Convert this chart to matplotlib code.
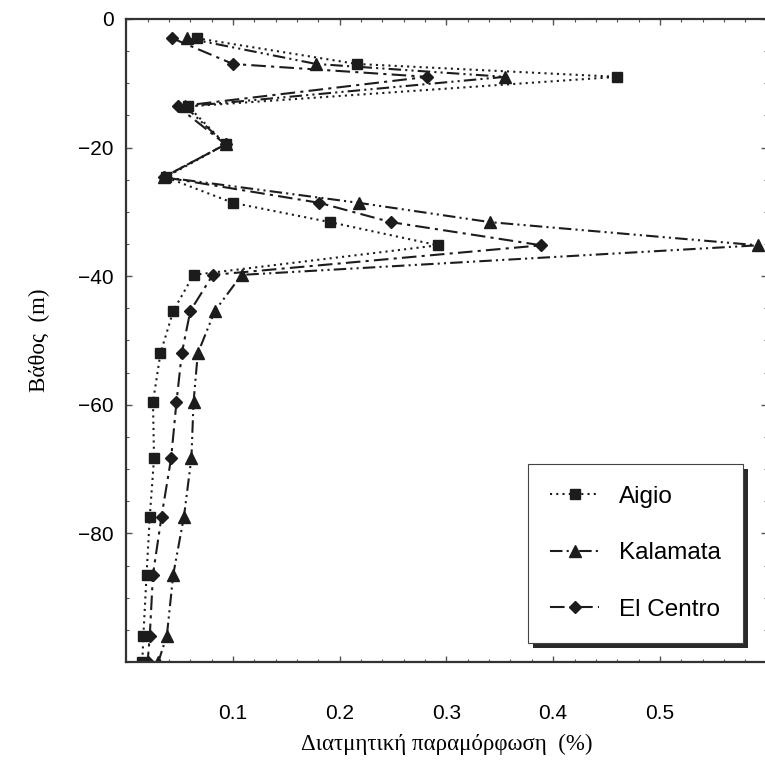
import matplotlib
matplotlib.use("Agg")
import matplotlib.pyplot as plt
from matplotlib.patches import Rectangle
from matplotlib.ticker import MultipleLocator

# Shear strain profiles (%) versus depth (m) for three input motions
depth = [-3, -7, -9, -13.6, -19.5, -24.6, -28.6, -31.6, -35.2, -39.8,
         -45.4, -52, -59.6, -68.3, -77.4, -86.4, -95.9, -100]
aigio = [0.066, 0.216, 0.460, 0.058, 0.093, 0.037, 0.100, 0.191, 0.292, 0.063,
         0.044, 0.032, 0.025, 0.026, 0.022, 0.019, 0.016, 0.015]
kalamata = [0.057, 0.178, 0.355, 0.055, 0.093, 0.035, 0.218, 0.341, 0.592, 0.108,
            0.083, 0.067, 0.063, 0.061, 0.054, 0.044, 0.038, 0.030]
el_centro = [0.043, 0.100, 0.282, 0.048, 0.093, 0.035, 0.181, 0.248, 0.389, 0.081,
             0.060, 0.052, 0.047, 0.042, 0.033, 0.025, 0.022, 0.020]

series_names = ["Aigio", "Kalamata", "El Centro"]
x_ticks = [0.1, 0.2, 0.3, 0.4, 0.5]
y_ticks = [0, -20, -40, -60, -80]

ink = "#1c1c1c"
sans = "Liberation Sans"
serif = "Liberation Serif"

fig = plt.figure(figsize=(7.65, 7.71), dpi=100)
ax = fig.add_axes([0.1651, 0.1414, 0.837, 0.834])

ax.plot(aigio, depth, color=ink, lw=1.5, linestyle=(0, (1, 2)),
        marker="s", ms=7, label=series_names[0])
ax.plot(kalamata, depth, color=ink, lw=1.5, linestyle=(0, (6, 2, 1, 2, 1, 2)),
        marker="^", ms=8, label=series_names[1])
ax.plot(el_centro, depth, color=ink, lw=1.5, linestyle=(0, (7, 2.5, 1.5, 2.5)),
        marker="D", ms=6.5, label=series_names[2])

ax.set_xlim(0, 0.6)
ax.set_ylim(-100, 0)
ax.set_xticks(x_ticks)
ax.set_yticks(y_ticks)
ax.set_xticklabels([f"{v:.1f}" for v in x_ticks], family=sans, fontsize=15)
ax.set_yticklabels([f"{v:d}".replace("-", "\u2212") for v in y_ticks],
                   family=sans, fontsize=15)
ax.xaxis.set_minor_locator(MultipleLocator(0.02))
ax.yaxis.set_minor_locator(MultipleLocator(5))
ax.tick_params(which="both", direction="in", top=True, right=True, color="#555555")
ax.tick_params(which="major", length=4, width=1)
ax.tick_params(which="minor", length=2.5, width=0.8)
ax.tick_params(axis="x", which="major", pad=30)
ax.tick_params(axis="y", which="major", pad=9)
for s in ax.spines.values():
    s.set_linewidth(1.6)
    s.set_color("#333333")

ax.set_xlabel("Διατμητική παραμόρφωση  (%)", family=serif, fontsize=16.5, labelpad=8)
ax.set_ylabel("Βάθος  (m)", family=serif, fontsize=16.5, labelpad=20)

leg = ax.legend(loc="lower left", bbox_to_anchor=(0.627, 0.03), numpoints=1,
                prop={"family": sans, "size": 17.5}, handlelength=2.05,
                handletextpad=0.8, labelspacing=1.42, borderpad=0.9,
                fancybox=False, frameon=True, borderaxespad=0,
                framealpha=1, facecolor="white")
leg.get_frame().set_edgecolor("#444444")
leg.get_frame().set_linewidth(0.8)
leg.set_zorder(10)

# solid drop shadow behind the legend box
fig.canvas.draw()
bb = leg.get_window_extent()
off = 5
shadow = Rectangle((bb.x0 + off, bb.y0 - off), bb.width, bb.height,
                   transform=None, facecolor="#2a2a2a", edgecolor="none",
                   zorder=9, clip_on=False)
ax.add_artist(shadow)

fig.savefig("out.png", dpi=100, facecolor="white")
